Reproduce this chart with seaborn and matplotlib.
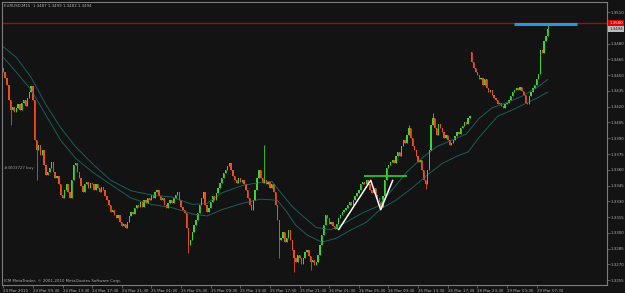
import matplotlib
matplotlib.use("Agg")
import matplotlib.pyplot as plt
import matplotlib.transforms as mtransforms
import seaborn as sns
import numpy as np
import pandas as pd

# ---------------- data (EURUSD M15 closes) ----------------
close_prices = [
    1.3453, 1.3447, 1.3441, 1.3426, 1.3417, 1.3420, 1.3415, 1.3419, 1.3423, 1.3417,
    1.3424, 1.3426, 1.3421, 1.3428, 1.3434, 1.3440, 1.3426, 1.3388, 1.3379, 1.3384,
    1.3374, 1.3379, 1.3365, 1.3355, 1.3358, 1.3362, 1.3367, 1.3358, 1.3352, 1.3354,
    1.3346, 1.3336, 1.3333, 1.3341, 1.3346, 1.3339, 1.3333, 1.3350, 1.3365, 1.3366,
    1.3358, 1.3352, 1.3345, 1.3339, 1.3346, 1.3348, 1.3343, 1.3347, 1.3346, 1.3341,
    1.3346, 1.3343, 1.3339, 1.3344, 1.3341, 1.3335, 1.3331, 1.3326, 1.3320, 1.3322,
    1.3317, 1.3314, 1.3317, 1.3310, 1.3306, 1.3308, 1.3305, 1.3310, 1.3316, 1.3320,
    1.3318, 1.3324, 1.3326, 1.3325, 1.3329, 1.3325, 1.3331, 1.3328, 1.3333, 1.3331,
    1.3336, 1.3333, 1.3339, 1.3341, 1.3335, 1.3331, 1.3333, 1.3326, 1.3324, 1.3328,
    1.3331, 1.3328, 1.3333, 1.3336, 1.3339, 1.3331, 1.3325, 1.3322, 1.3319, 1.3305,
    1.3288, 1.3293, 1.3301, 1.3307, 1.3312, 1.3319, 1.3326, 1.3333, 1.3339, 1.3326,
    1.3320, 1.3324, 1.3329, 1.3335, 1.3331, 1.3338, 1.3343, 1.3347, 1.3352, 1.3357,
    1.3360, 1.3364, 1.3366, 1.3360, 1.3354, 1.3350, 1.3347, 1.3352, 1.3348, 1.3350,
    1.3346, 1.3341, 1.3333, 1.3326, 1.3322, 1.3331, 1.3341, 1.3352, 1.3360, 1.3352,
    1.3347, 1.3350, 1.3346, 1.3348, 1.3343, 1.3346, 1.3339, 1.3326, 1.3312, 1.3293,
    1.3295, 1.3301, 1.3291, 1.3295, 1.3303, 1.3293, 1.3284, 1.3276, 1.3272, 1.3279,
    1.3276, 1.3270, 1.3276, 1.3282, 1.3284, 1.3278, 1.3272, 1.3274, 1.3269, 1.3272,
    1.3279, 1.3288, 1.3298, 1.3307, 1.3317, 1.3314, 1.3308, 1.3310, 1.3306, 1.3304,
    1.3308, 1.3314, 1.3317, 1.3320, 1.3322, 1.3324, 1.3326, 1.3329, 1.3326, 1.3331,
    1.3335, 1.3338, 1.3341, 1.3346, 1.3348, 1.3346, 1.3350, 1.3346, 1.3341, 1.3338,
    1.3343, 1.3336, 1.3333, 1.3329, 1.3325, 1.3335, 1.3350, 1.3362, 1.3365, 1.3367,
    1.3369, 1.3366, 1.3373, 1.3377, 1.3373, 1.3383, 1.3388, 1.3385, 1.3393, 1.3400,
    1.3390, 1.3383, 1.3379, 1.3373, 1.3367, 1.3369, 1.3360, 1.3350, 1.3346, 1.3360,
    1.3379, 1.3403, 1.3409, 1.3400, 1.3393, 1.3404, 1.3400, 1.3396, 1.3390, 1.3393,
    1.3388, 1.3384, 1.3385, 1.3388, 1.3392, 1.3396, 1.3394, 1.3400, 1.3402, 1.3405,
    1.3404, 1.3409, 1.3411, 1.3463, 1.3457, 1.3453, 1.3450, 1.3446, 1.3447, 1.3441,
    1.3446, 1.3438, 1.3434, 1.3436, 1.3431, 1.3428, 1.3426, 1.3423, 1.3424, 1.3421,
    1.3419, 1.3423, 1.3424, 1.3426, 1.3430, 1.3434, 1.3436, 1.3438, 1.3436, 1.3439,
    1.3435, 1.3431, 1.3424, 1.3423, 1.3430, 1.3434, 1.3438, 1.3441, 1.3446, 1.3451,
    1.3474, 1.3471, 1.3483, 1.3487, 1.3494,
]
first_open = 1.3457
open_overrides = {253: 1.3472}          # weekend gap open
high_overrides = {141: 1.3384, 219: 1.3403, 232: 1.3414, 253: 1.3472, 294: 1.3499}
low_overrides = {4: 1.3403, 18: 1.3350, 100: 1.3281, 149: 1.3276, 157: 1.3263,
                 166: 1.3265, 228: 1.3342}

# moving-average envelope (two teal lines), sampled at bar indices
ma_bars = [0, 7, 15, 23, 31, 39, 48, 58, 69, 80, 91, 102, 110, 118, 129, 139, 145,
           150, 156, 161, 169, 177, 185, 194, 202, 210, 218, 226, 234, 242, 250,
           257, 264, 272, 280, 288, 294]
ma_upper = [1.3477, 1.3467, 1.3448, 1.3422, 1.3400, 1.3382, 1.3366, 1.3350, 1.3340,
            1.3336, 1.3334, 1.3327, 1.3328, 1.3338, 1.3345, 1.3348, 1.3349, 1.3338,
            1.3325, 1.3317, 1.3305, 1.3303, 1.3310, 1.3319, 1.3325, 1.3341, 1.3358,
            1.3371, 1.3382, 1.3388, 1.3394, 1.3409, 1.3419, 1.3424, 1.3430, 1.3438,
            1.3446]
ma_lower_bars = [0, 7, 15, 23, 31, 39, 48, 58, 69, 80, 91, 102, 110, 118, 129, 139,
                 148, 153, 158, 164, 172, 180, 188, 196, 204, 212, 221, 229, 237, 245,
                 251, 257, 267, 275, 283, 288, 294]
ma_lower = [1.3467, 1.3453, 1.3436, 1.3412, 1.3388, 1.3371, 1.3358, 1.3346, 1.3333,
            1.3327, 1.3324, 1.3318, 1.3316, 1.3322, 1.3328, 1.3332, 1.3331, 1.3320,
            1.3307, 1.3298, 1.3291, 1.3295, 1.3303, 1.3310, 1.3323, 1.3331, 1.3343,
            1.3355, 1.3366, 1.3373, 1.3377, 1.3391, 1.3411, 1.3417, 1.3424, 1.3428,
            1.3434]

# drawn objects
zigzag_bars = [181.1, 198.4, 203.8, 210.3]
zigzag_prices = [1.3303, 1.3350, 1.3322, 1.3350]
green_level = 1.3354
green_span = [194.6, 217.8]
red_level = 1.3500
blue_level = 1.3499
blue_span = [275.7, 309.7]

xtick_bars = list(range(0, 289, 16))
xtick_labels = ["24 Mar 2010", "24 Mar 09:30", "24 Mar 13:30", "24 Mar 17:30",
                "24 Mar 21:30", "25 Mar 01:30", "25 Mar 05:30", "25 Mar 09:30",
                "25 Mar 13:30", "25 Mar 17:30", "25 Mar 21:30", "26 Mar 01:30",
                "26 Mar 05:30", "26 Mar 09:30", "26 Mar 13:30", "26 Mar 17:30",
                "28 Mar 23:30", "29 Mar 03:30", "29 Mar 07:30"]
ytick_values = [1.3255, 1.3270, 1.3285, 1.3300, 1.3315, 1.3330, 1.3345, 1.3360,
                1.3375, 1.3390, 1.3405, 1.3420, 1.3435, 1.3450, 1.3465, 1.3480, 1.3510]
ytick_labels = ["1.3255", "1.3270", "1.3285", "1.3300", "1.3315", "1.3330", "1.3345",
                "1.3360", "1.3375", "1.3390", "1.3405", "1.3420", "1.3435", "1.3450",
                "1.3465", "1.3480", "1.3510"]
header_text = "EURUSD,M15  1.3487 1.3499 1.3483 1.3494"
footer_text = "ICM MetaTrader, \u00a9 2001-2010 MetaQuotes Software Corp."
order_text = "#3003727 buy"

# ---------------- build OHLC table ----------------
closes = np.array(close_prices)
opens = np.concatenate([[first_open], closes[:-1]])
for k, v in open_overrides.items():
    opens[k] = v
highs = np.maximum(opens, closes)
lows = np.minimum(opens, closes)
for k, v in high_overrides.items():
    highs[k] = max(highs[k], v)
for k, v in low_overrides.items():
    lows[k] = min(lows[k], v)
df = pd.DataFrame({"bar": np.arange(len(closes)), "open": opens, "close": closes,
                   "high": highs, "low": lows})
df["up"] = df["close"] >= df["open"]

BG = "#131313"
UP = "#3ad42c"
DN = "#f04c18"
TEAL = "#175f5d"
FG = "#aeaeae"
FS = 2.9

sns.set_theme(style="dark", rc={"axes.facecolor": BG, "figure.facecolor": BG,
                                "axes.edgecolor": "#7c7c7c", "axes.grid": False})
plt.rcParams["font.family"] = ["DejaVu Sans"]

fig = plt.figure(figsize=(6.25, 2.93), dpi=100)
ax = fig.add_axes([2 / 625, 8 / 293, 605 / 625, 283 / 293])
ax.set_facecolor(BG)

# moving averages
sns.lineplot(x=ma_bars, y=ma_upper, ax=ax, color=TEAL, lw=0.7, sort=False)
sns.lineplot(x=ma_lower_bars, y=ma_lower, ax=ax, color=TEAL, lw=0.7, sort=False)

# candles
colors = np.where(df["up"], UP, DN)
ax.vlines(df["bar"], df["low"], df["high"], colors=colors, lw=0.6)
body = (df["close"] - df["open"]).to_numpy()
body = np.where(np.abs(body) < 0.00008, 0.00008, body)
ax.bar(df["bar"], body, bottom=df["open"], width=0.72, color=colors, linewidth=0)

# horizontal lines and drawn objects
ax.axhline(red_level, color="#9a1010", lw=1.0)
ax.plot(blue_span, [blue_level, blue_level], color="#1e9be0", lw=2.2, solid_capstyle="butt")
ax.plot(green_span, [green_level, green_level], color="#2fc42f", lw=1.3, solid_capstyle="butt")
sns.lineplot(x=zigzag_bars, y=zigzag_prices, ax=ax, color="white", lw=1.1, sort=False)

ax.set_xlim(-0.7, 326)
ax.set_ylim(1.32503, 1.35197)

ax.set_xticks(xtick_bars)
ax.set_xticklabels(xtick_labels, fontsize=FS, color=FG, ha="left")
ax.tick_params(axis="x", length=2, width=0.5, color="#7c7c7c", pad=0.8, bottom=True)

ax.yaxis.tick_right()
ax.set_yticks(ytick_values)
ax.set_yticklabels(ytick_labels, fontsize=FS, color=FG)
ax.tick_params(axis="y", length=2, width=0.5, color="#7c7c7c", pad=0.8, right=True)
ax.set_xlabel("")
ax.set_ylabel("")
for sp in ax.spines.values():
    sp.set_color("#7c7c7c")
    sp.set_linewidth(0.8)

# price labels on the right axis
trans = mtransforms.blended_transform_factory(ax.transAxes, ax.transData)
ax.text(1.0035, red_level, "1.3500", transform=trans, fontsize=FS, color="white",
        va="center", ha="left",
        bbox=dict(boxstyle="square,pad=0.2", fc="#e00000", ec="none"))
ax.text(1.0035, 1.3494, "1.3494", transform=trans, fontsize=FS, color="#202020",
        va="center", ha="left",
        bbox=dict(boxstyle="square,pad=0.2", fc="#bdbdbd", ec="none"))

# texts
fig.text(4 / 625, 1 - 6 / 293, header_text, fontsize=FS, color=FG, va="center", ha="left")
fig.text(4 / 625, 1 - 281 / 293, footer_text, fontsize=FS, color=FG, va="center", ha="left")
fig.text(4 / 625, 1 - 168 / 293, order_text, fontsize=FS, color="#9a9a9a", va="center", ha="left")

fig.savefig("out.png", dpi=100, facecolor=BG)
